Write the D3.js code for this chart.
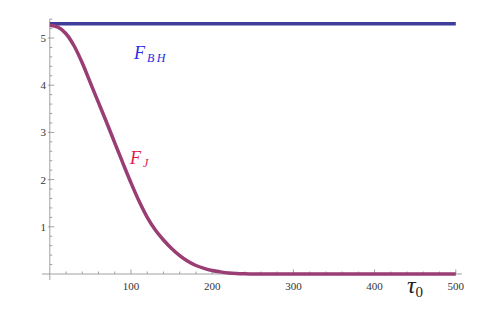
<!DOCTYPE html>
<meta charset="utf-8">
<style>
body { margin: 0; background: #fff; }
.axis line { stroke: #a0a0a0; }
.ticklbl { font-family: "Liberation Serif", "Times New Roman", "DejaVu Serif", serif; font-size: 11px; fill: #333; }
.lbl { font-family: "Liberation Serif", "Times New Roman", "DejaVu Serif", serif; font-style: italic; }
</style>
<svg width="497" height="313"></svg>
<script src="https://d3js.org/d3.v7.min.js"></script>
<script>

// tau_0 sample points and F_J values
var tau = [0, 10, 20, 30, 40, 50, 60, 70, 80, 90, 100, 110, 120, 130, 140, 150, 160, 170, 180, 190,
           200, 210, 220, 230, 240, 250, 260, 300, 400, 500];
var fJ  = [5.27, 5.23, 5.09, 4.83, 4.47, 4.05, 3.63, 3.21, 2.78, 2.35, 1.93, 1.54, 1.20, 0.93, 0.72,
           0.54, 0.39, 0.27, 0.18, 0.12, 0.075, 0.045, 0.022, 0.01, 0.004, 0.001, 0, 0, 0, 0];

// F_BH is flat
var tauBH = [0, 500];
var fBH   = [5.30, 5.30];

var xTicks = [100, 200, 300, 400, 500];
var yTicks = [1, 2, 3, 4, 5];

var svg = d3.select("svg");

var x = d3.scaleLinear().domain([0, 500]).range([49.8, 455.8]);
var y = d3.scaleLinear().domain([0, 5]).range([274, 38]);

// minor ticks
var xMinor = d3.range(0, 501, 20).filter(function(d) { return d % 100 != 0; });
var yMinor = d3.range(0, 5.41, 0.2).filter(function(d) { return Math.abs(d - Math.round(d)) > 0.01; });

var gx = svg.append("g").attr("class", "axis");
gx.append("line").attr("x1", 42).attr("x2", 462).attr("y1", y(0)).attr("y2", y(0));
gx.selectAll(".mj").data(xTicks).enter().append("line")
    .attr("x1", x).attr("x2", x).attr("y1", y(0)).attr("y2", y(0) - 4.5);
gx.selectAll(".mn").data(xMinor).enter().append("line")
    .attr("x1", x).attr("x2", x).attr("y1", y(0)).attr("y2", y(0) - 2.5);
gx.selectAll("text").data(xTicks).enter().append("text")
    .attr("class", "ticklbl")
    .attr("x", x).attr("y", 290)
    .attr("text-anchor", "middle")
    .text(function(d) { return d; });

var gy = svg.append("g").attr("class", "axis");
gy.append("line").attr("x1", x(0)).attr("x2", x(0)).attr("y1", 19).attr("y2", 280);
gy.selectAll(".mj").data(yTicks).enter().append("line")
    .attr("x1", x(0) - 2).attr("x2", x(0) + 4.5).attr("y1", y).attr("y2", y);
gy.selectAll(".mn").data(yMinor).enter().append("line")
    .attr("x1", x(0)).attr("x2", x(0) + 2.5).attr("y1", y).attr("y2", y);
gy.selectAll("text").data(yTicks).enter().append("text")
    .attr("class", "ticklbl")
    .attr("x", 46).attr("y", function(d) { return y(d) + 4; })
    .attr("text-anchor", "end")
    .text(function(d) { return d; });

var line = d3.line()
    .x(function(d) { return x(d[0]); })
    .y(function(d) { return y(d[1]); })
    .curve(d3.curveMonotoneX);

svg.append("path")
    .datum(d3.zip(tauBH, fBH))
    .attr("d", line)
    .attr("fill", "none")
    .attr("stroke", "rgb(62,61,153)")
    .attr("stroke-width", 3.5);

svg.append("path")
    .datum(d3.zip(tau, fJ))
    .attr("d", line)
    .attr("fill", "none")
    .attr("stroke", "rgb(153,61,116)")
    .attr("stroke-width", 3.5);

// labels
var t1 = svg.append("text").attr("class", "lbl").attr("x", 134).attr("y", 59)
    .style("fill", "#2a2ae0").style("font-size", "18px");
t1.append("tspan").text("F");
t1.append("tspan").attr("dx", 2).attr("dy", 3).style("font-size", "12px").style("letter-spacing", "2.5px").text("BH");

var t2 = svg.append("text").attr("class", "lbl").attr("x", 130).attr("y", 164)
    .style("fill", "#dc1a4a").style("font-size", "18px");
t2.append("tspan").text("F");
t2.append("tspan").attr("dx", 2).attr("dy", 3).style("font-size", "12px").text("J");

var t3 = svg.append("text").attr("class", "lbl").attr("x", 407).attr("y", 293)
    .style("fill", "#222").style("font-size", "24px");
t3.append("tspan").text("τ");
t3.append("tspan").attr("dy", 4).style("font-size", "15px").style("font-style", "normal").text("0");

</script>
